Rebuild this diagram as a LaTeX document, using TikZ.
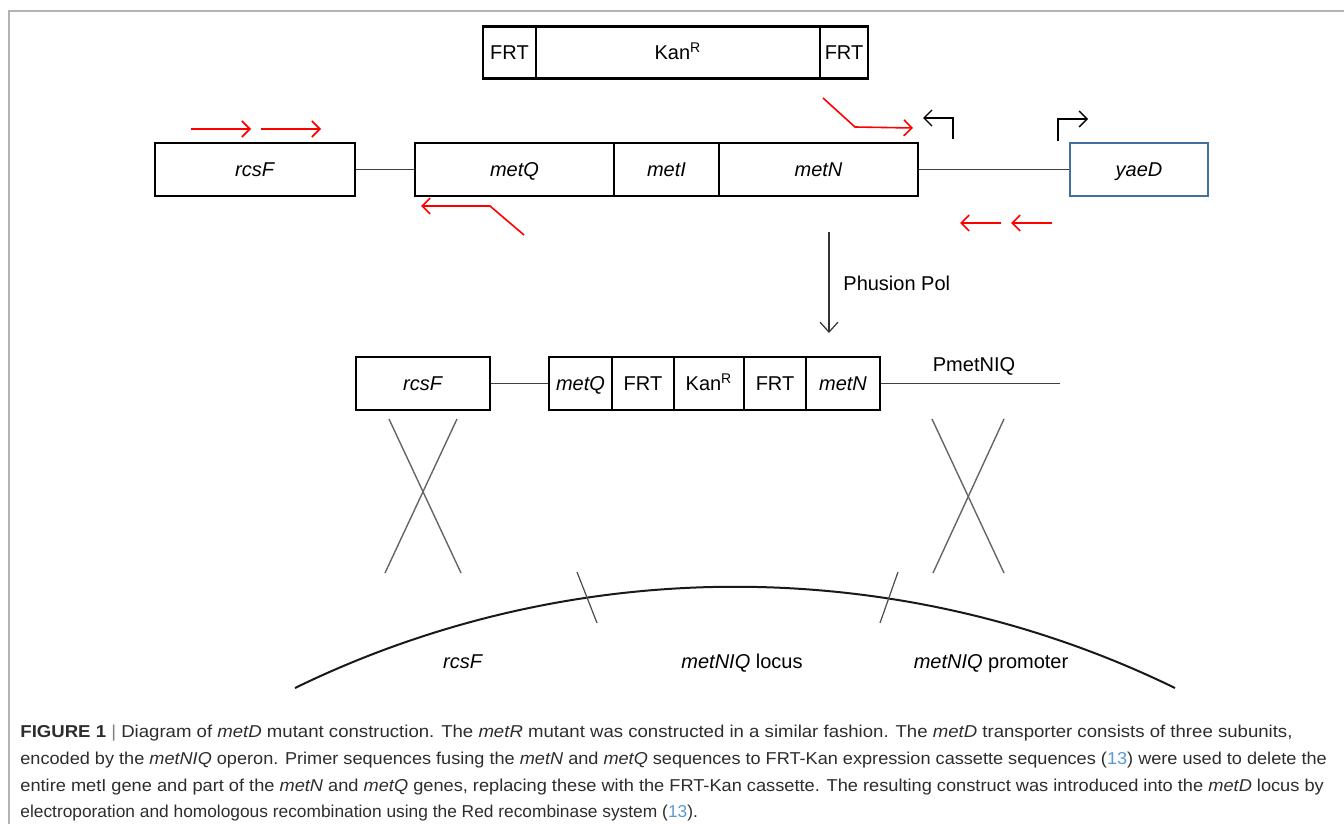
\documentclass[tikz,border=0pt]{standalone}
\usepackage{fontspec}
\setmainfont{Liberation Sans}
\usetikzlibrary{arrows.meta}
\definecolor{yblue}{RGB}{65,113,156}
\definecolor{citeblue}{RGB}{90,155,210}
\definecolor{captxt}{RGB}{45,45,45}
\begin{document}
\begin{tikzpicture}[x=0.5pt,y=-0.5pt,
  box/.style={draw, line width=1pt, inner sep=0pt, minimum height=26.5pt, text height=7.2pt, text depth=0pt, font=\fontsize{10}{12}\selectfont},
  link/.style={draw=black!75, line width=0.6pt},
  primer/.style={draw=red, line width=0.8pt, -{Straight Barb[length=4pt,width=8pt,line width=0.8pt]}},
  prom/.style={draw=black, line width=0.7pt, -{Straight Barb[length=4pt,width=8pt,line width=0.7pt]}},
  crossline/.style={draw=black!60, line width=0.7pt},
  lbl/.style={font=\fontsize{10}{12}\selectfont, inner sep=0pt, text height=7.2pt, text depth=0pt},
  captionline/.style={anchor=base west, inner sep=0pt, text=captxt, font=\fontsize{8.6}{10}\selectfont}
]
\useasboundingbox (0,0) rectangle (1344,824);
\fill[white] (0,0) rectangle (1344,824);
% frame
\draw[gray!60, line width=1pt] (9,824) -- (9,11) -- (1344,11);

% top cassette
\node[box, minimum width=26.5pt, minimum height=25.5pt] (frtA) at (509.5,52.5) {FRT};
\node[box, minimum width=142pt, minimum height=25.5pt] (kan) at (678,52.5) {Kan\textsuperscript{R}};
\node[box, minimum width=24pt, minimum height=25.5pt] (frtB) at (844,52.5) {FRT};
\draw[line width=1.4pt] (frtA.north west) -- (frtB.north east);
\draw[line width=1.4pt] (frtA.south west) -- (frtB.south east);

% row 1
\node[box, minimum width=100pt] (rcsF) at (255,169.5) {\textit{rcsF}};
\node[box, minimum width=99.5pt] (metQ) at (514.5,169.5) {\textit{metQ}};
\node[box, minimum width=52.5pt] (metI) at (666.5,169.5) {\textit{metI}};
\node[box, minimum width=99.5pt] (metN) at (818.5,169.5) {\textit{metN}};
\node[box, draw=yblue, minimum width=69pt] (yaeD) at (1139,169.5) {\textit{yaeD}};
\draw[link] (rcsF.east) -- (metQ.west);
\draw[link] (metN.east) -- (yaeD.west);

% primers
\coordinate (f1a) at (191,129); \coordinate (f1b) at (251,129);
\coordinate (f2a) at (261,129); \coordinate (f2b) at (321,129);
\draw[primer] (f1a) -- (f1b);
\draw[primer] (f2a) -- (f2b);
\coordinate (r1a) at (524,235); \coordinate (r1b) at (490,206); \coordinate (r1c) at (421,206);
\draw[primer] (r1a) -- (r1b) -- (r1c);
\coordinate (k1a) at (823,98); \coordinate (k1b) at (855,127); \coordinate (k1c) at (913,128);
\draw[primer] (k1a) -- (k1b) -- (k1c);
\coordinate (b1a) at (1001,223); \coordinate (b1b) at (960,223);
\coordinate (b2a) at (1052,223); \coordinate (b2b) at (1011,223);
\draw[primer] (b1a) -- (b1b);
\draw[primer] (b2a) -- (b2b);

% promoter arrows
\coordinate (p1a) at (953,139); \coordinate (p1b) at (953,118); \coordinate (p1c) at (923,118);
\coordinate (p2a) at (1058,141); \coordinate (p2b) at (1058,119); \coordinate (p2c) at (1088,119);
\draw[prom] (p1a) -- (p1b) -- (p1c);
\draw[prom] (p2a) -- (p2b) -- (p2c);

% Phusion
\coordinate (pha) at (829,232); \coordinate (phb) at (829,333);
\draw[draw=black!80, line width=0.6pt, -{Straight Barb[length=5pt,width=9pt,line width=0.6pt]}] (pha) -- (phb);
\node[lbl, anchor=west] (phus) at (843,283) {Phusion Pol};

% row 2
\node[box, minimum width=67pt] (rcsF2) at (423,383.5) {\textit{rcsF}};
\node[box, minimum width=31.5pt] (metQ2) at (580.5,383.5) {\textit{metQ}};
\node[box, minimum width=31pt] (frt1) at (643,383.5) {FRT};
\node[box, minimum width=35pt] (kan2) at (709,383.5) {Kan\textsuperscript{R}};
\node[box, minimum width=31pt] (frt2) at (775,383.5) {FRT};
\node[box, minimum width=37pt] (metN2) at (843,383.5) {\textit{metN}};
\coordinate (pend) at (1060,383.5);
\draw[link] (rcsF2.east) -- (metQ2.west);
\draw[link] (metN2.east) -- (pend);
\node[lbl] (pmet) at (974,364) {PmetNIQ};

% crossovers
\draw[crossline] (389,419) -- (461,573);
\draw[crossline] (457,419) -- (385,573);
\draw[crossline] (932,419) -- (1004,573);
\draw[crossline] (1004,419) -- (933,573);

% chromosome arc (circular, R ~ 1000 px)
\coordinate (arcL) at (295,688);
\coordinate (arcC1) at (572,553);
\coordinate (arcC2) at (898,553);
\coordinate (arcR) at (1175,688);
\draw[black!90, line width=1pt] (arcL) .. controls (arcC1) and (arcC2) .. (arcR);
\draw[black!70, line width=0.6pt] (577,572) -- (597,623);
\draw[black!70, line width=0.6pt] (898,572) -- (880,623);
\node[lbl] (l1) at (463,661) {\textit{rcsF}};
\node[lbl] (l2) at (742,661) {\textit{metNIQ} locus};
\node[lbl] (l3) at (991,661) {\textit{metNIQ} promoter};

% caption
\node[captionline] (c1) at (20,737) {\scalebox{1.081}[1]{\textbf{FIGURE 1} {\color{gray}|} Diagram of \textit{metD} mutant construction. The \textit{metR} mutant was constructed in a similar fashion. The \textit{metD} transporter consists of three subunits,}};
\node[captionline] (c2) at (20,764) {\scalebox{1.054}[1]{encoded by the \textit{metNIQ} operon. Primer sequences fusing the \textit{metN} and \textit{metQ} sequences to FRT-Kan expression cassette sequences ({\color{citeblue}13}) were used to delete the}};
\node[captionline] (c3) at (20,791) {\scalebox{1.059}[1]{entire metI gene and part of the \textit{metN} and \textit{metQ} genes, replacing these with the FRT-Kan cassette. The resulting construct was introduced into the \textit{metD} locus by}};
\node[captionline] (c4) at (20,817) {\scalebox{1.008}[1]{electroporation and homologous recombination using the Red recombinase system ({\color{citeblue}13}).}};
\end{tikzpicture}
\end{document}
